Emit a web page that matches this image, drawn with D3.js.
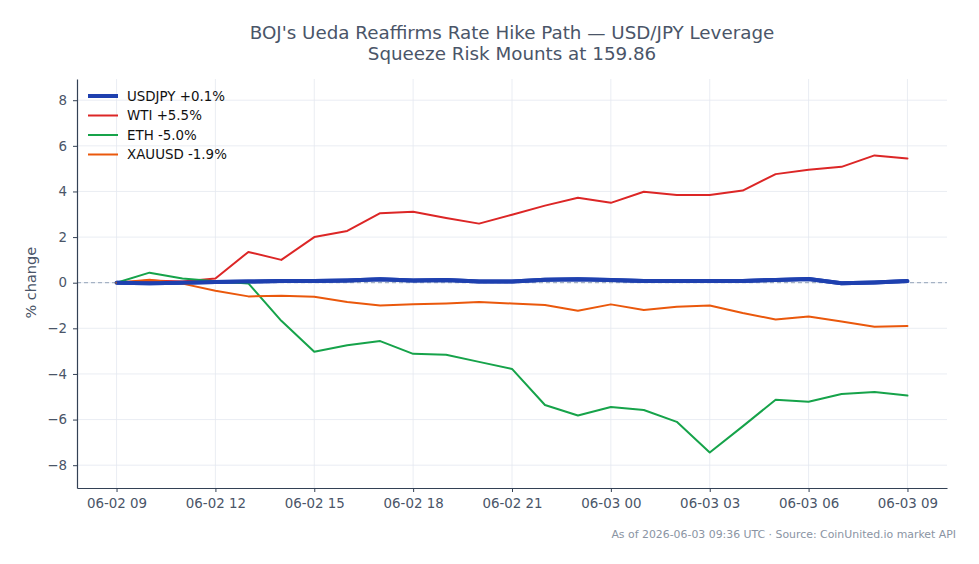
<!DOCTYPE html>
<html>
<head>
<meta charset="utf-8">
<style>
  body { margin: 0; background: white; font-family: "DejaVu Sans", sans-serif; }
  svg { display: block; }
</style>
<script src="https://cdn.jsdelivr.net/npm/d3@7"></script>
</head>
<body>
<svg id="chart"></svg>
<script>
// hourly points, 06-02 09:00 -> 06-03 09:00 UTC
let startTime = new Date(Date.UTC(2026, 5, 2, 9))
let hours = d3.range(25).map(h => new Date(startTime.getTime() + h * 3600e3))

let usdjpy = [0, -0.02, 0, 0.03, 0.05, 0.08, 0.08, 0.1, 0.15, 0.1, 0.12, 0.05, 0.05, 0.13, 0.15, 0.12, 0.07, 0.07, 0.08, 0.08, 0.12, 0.16, -0.02, 0.01, 0.07]
let wti = [0, 0.1, 0.05, 0.18, 1.35, 1.0, 2.0, 2.27, 3.05, 3.11, 2.84, 2.59, 2.98, 3.38, 3.72, 3.5, 3.99, 3.85, 3.84, 4.04, 4.76, 4.95, 5.08, 5.58, 5.45]
let eth = [0, 0.44, 0.18, 0.06, -0.03, -1.67, -3.03, -2.74, -2.56, -3.12, -3.16, -3.47, -3.78, -5.36, -5.82, -5.45, -5.58, -6.1, -7.44, -6.3, -5.13, -5.22, -4.88, -4.79, -4.95]
let xauusd = [0, 0.13, -0.04, -0.35, -0.6, -0.57, -0.62, -0.85, -1.0, -0.94, -0.91, -0.85, -0.91, -0.98, -1.23, -0.95, -1.2, -1.05, -1.0, -1.33, -1.61, -1.48, -1.7, -1.93, -1.9]

let seriesNames = ["USDJPY +0.1%", "WTI +5.5%", "ETH -5.0%", "XAUUSD -1.9%"]
let seriesValues = [usdjpy, wti, eth, xauusd]
let seriesColors = ["#1e40af", "#dc2626", "#16a34a", "#ea580c"]
let seriesWidths = [4, 2, 2, 2]

let yTicks = [-8, -6, -4, -2, 0, 2, 4, 6, 8]

let width = 979
let height = 564
let margin = {left: 77, right: 32, top: 79, bottom: 76}
let textColor = "#4a5568"

let svg = d3.select("#chart").attr("width", width).attr("height", height)

let pad = 1.2 * 3600e3
let x = d3.scaleUtc()
  .domain([startTime.getTime() - pad, hours[24].getTime() + pad])
  .range([margin.left, width - margin.right])

let y = d3.scaleLinear()
  .domain([-9, 8.93])
  .range([height - margin.bottom, margin.top])

let xTicks = d3.range(0, 25, 3).map(h => hours[h])
let fmt = d3.utcFormat("%m-%d %H")

// grid
let grid = svg.append("g")
grid.selectAll(".gx").data(xTicks).enter().append("line")
  .attr("x1", d => x(d)).attr("x2", d => x(d))
  .attr("y1", margin.top).attr("y2", height - margin.bottom)
  .attr("stroke", "#e5e9f0").attr("stroke-width", 0.8)
grid.selectAll(".gy").data(yTicks).enter().append("line")
  .attr("x1", margin.left).attr("x2", width - margin.right)
  .attr("y1", d => y(d)).attr("y2", d => y(d))
  .attr("stroke", "#e5e9f0").attr("stroke-width", 0.8)

// zero reference
svg.append("line")
  .attr("x1", margin.left).attr("x2", width - margin.right)
  .attr("y1", y(0)).attr("y2", y(0))
  .attr("stroke", "#94a3b8").attr("stroke-width", 1)
  .attr("stroke-dasharray", "4,3")

// axes
let xAxis = svg.append("g")
  .attr("transform", `translate(0,${height - margin.bottom})`)
  .call(d3.axisBottom(x).tickValues(xTicks).tickFormat(fmt).tickSize(4).tickPadding(6).tickSizeOuter(0))
let yAxis = svg.append("g")
  .attr("transform", `translate(${margin.left},0)`)
  .call(d3.axisLeft(y).tickValues(yTicks).tickFormat(d => d < 0 ? "\u2212" + Math.abs(d) : d).tickSize(4).tickPadding(6).tickSizeOuter(0))

for (let ax of [xAxis, yAxis]) {
  ax.select(".domain").attr("stroke", "#334155").attr("stroke-width", 1.2)
  ax.selectAll(".tick line").attr("stroke", "#334155")
  ax.selectAll(".tick text").attr("fill", textColor).attr("font-size", 13.4)
    .attr("font-family", "DejaVu Sans")
}

svg.append("text")
  .attr("transform", `translate(36,${y(0)}) rotate(-90)`)
  .attr("text-anchor", "middle")
  .attr("fill", textColor).attr("font-size", 14.5)
  .text("% change")

// lines
let line = d3.line().x((d, i) => x(hours[i])).y(d => y(d))
svg.selectAll(".series").data(seriesValues).enter().append("path")
  .attr("d", d => line(d))
  .attr("fill", "none")
  .attr("stroke", (d, i) => seriesColors[i])
  .attr("stroke-width", (d, i) => seriesWidths[i])
  .attr("stroke-linejoin", "round")
  .attr("stroke-linecap", "round")

// usdjpy drawn on top
svg.append("path")
  .attr("d", line(usdjpy))
  .attr("fill", "none")
  .attr("stroke", seriesColors[0])
  .attr("stroke-width", seriesWidths[0])
  .attr("stroke-linejoin", "round")

// legend
let legend = svg.append("g").attr("transform", "translate(88,96)")
let rows = legend.selectAll("g").data(seriesNames).enter().append("g")
  .attr("transform", (d, i) => `translate(0,${i * 19.5})`)
rows.append("line")
  .attr("x1", 0).attr("x2", 30)
  .attr("stroke", (d, i) => seriesColors[i])
  .attr("stroke-width", (d, i) => seriesWidths[i])
rows.append("text")
  .attr("x", 39).attr("dy", "0.35em")
  .attr("font-size", 13.4).attr("fill", "#111")
  .text(d => d)

// title
let title = svg.append("text")
  .attr("x", 512).attr("text-anchor", "middle")
  .attr("fill", textColor).attr("font-size", 18.3)
title.append("tspan").attr("x", 512).attr("y", 38.5).text("BOJ's Ueda Reaffirms Rate Hike Path \u2014 USD/JPY Leverage")
title.append("tspan").attr("x", 512).attr("y", 59.5).text("Squeeze Risk Mounts at 159.86")

// footer
svg.append("text")
  .attr("x", 956).attr("y", 538)
  .attr("text-anchor", "end")
  .attr("fill", "#8a94a3").attr("font-size", 10.9)
  .text("As of 2026-06-03 09:36 UTC \u00b7 Source: CoinUnited.io market API")
</script>
</body>
</html>
